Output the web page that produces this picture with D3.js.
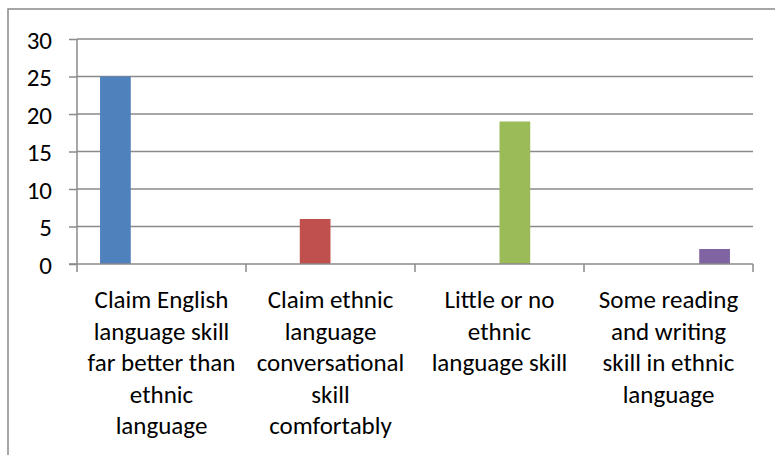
<!DOCTYPE html>
<html>
<head>
<meta charset="utf-8">
<script src="https://cdn.jsdelivr.net/npm/d3@7"></script>
<style>
  body { margin: 0; background: #fff; }
  svg text { font-family: Carlito, Calibri, Lato, "Open Sans", sans-serif; fill: #000; }
</style>
</head>
<body>
<div id="chart"></div>
<script>
// data
const categories = [
  "Claim English language skill far better than ethnic language",
  "Claim ethnic language conversational skill comfortably",
  "Little or no ethnic language skill",
  "Some reading and writing skill in ethnic language"
];
// how excel wrapped the labels
const labelLines = [
  ["Claim English", "language skill", "far better than", "ethnic", "language"],
  ["Claim ethnic", "language", "conversational", "skill", "comfortably"],
  ["Little or no", "ethnic", "language skill"],
  ["Some reading", "and writing", "skill in ethnic", "language"]
];
const values = [25, 6, 19, 2];
const colors = ["#4F81BD", "#C0504D", "#9BBB59", "#8064A2"];
const yTicks = [0, 5, 10, 15, 20, 25, 30];

const width = 775, height = 455;
const plot = { left: 77, right: 753, top: 39, bottom: 264 };
const fontSize = 25;

const svg = d3.select("#chart").append("svg")
  .attr("width", width)
  .attr("height", height);

svg.append("rect").attr("width", width).attr("height", height).attr("fill", "#fff");

// outer frame (right and bottom edges fall off the picture)
svg.append("rect")
  .attr("x", 8).attr("y", 9)
  .attr("width", width + 10).attr("height", height + 10)
  .attr("fill", "none")
  .attr("stroke", "#898989")
  .attr("stroke-width", 1.5);

const y = d3.scaleLinear().domain([0, 30]).range([plot.bottom, plot.top]);

const x = d3.scaleBand()
  .domain(categories)
  .range([plot.left, plot.right])
  .padding(0);

// each category is its own series in a clustered column chart
const xs = d3.scaleBand()
  .domain(d3.range(categories.length))
  .range([0, x.bandwidth()])
  .paddingInner(0)
  .paddingOuter(0.75);

// gridlines
svg.append("g")
  .selectAll("line")
  .data(yTicks.filter(d => d > 0))
  .join("line")
  .attr("x1", plot.left).attr("x2", plot.right)
  .attr("y1", d => y(d)).attr("y2", d => y(d))
  .attr("stroke", "#8a8a8a")
  .attr("stroke-width", 1.5);

// bars
svg.append("g")
  .selectAll("rect")
  .data(values)
  .join("rect")
  .attr("x", (d, i) => x(categories[i]) + xs(i))
  .attr("width", xs.bandwidth())
  .attr("y", d => y(d))
  .attr("height", d => y(0) - y(d))
  .attr("fill", (d, i) => colors[i]);

// y axis
const yAxis = svg.append("g")
  .attr("transform", `translate(${plot.left},0)`)
  .call(d3.axisLeft(y).tickValues(yTicks).tickSize(8).tickPadding(17));
yAxis.selectAll("line, path").attr("stroke", "#8a8a8a").attr("stroke-width", 1.5);
yAxis.select(".domain").attr("d", `M0,${plot.top}V${plot.bottom}`);
yAxis.selectAll("text")
  .style("font-family", "Carlito, Calibri, Lato, 'Open Sans', sans-serif")
  .attr("font-size", fontSize)
  .attr("fill", "#000")
  .attr("dy", "0.36em");

// x axis with ticks on the category boundaries
const boundaries = categories.map(c => x(c)).concat([plot.right]);
svg.append("line")
  .attr("x1", plot.left - 8).attr("x2", plot.right)
  .attr("y1", plot.bottom).attr("y2", plot.bottom)
  .attr("stroke", "#8a8a8a").attr("stroke-width", 1.5);
svg.append("g")
  .selectAll("line")
  .data(boundaries)
  .join("line")
  .attr("x1", d => d).attr("x2", d => d)
  .attr("y1", plot.bottom).attr("y2", plot.bottom + 8)
  .attr("stroke", "#8a8a8a").attr("stroke-width", 1.5);

// category labels
const lineHeight = 31.5;
svg.append("g")
  .selectAll("text")
  .data(categories)
  .join("text")
  .attr("text-anchor", "middle")
  .attr("font-size", fontSize)
  .attr("x", d => x(d) + x.bandwidth() / 2)
  .attr("y", 308)
  .each(function (d, i) {
    d3.select(this).selectAll("tspan")
      .data(labelLines[i])
      .join("tspan")
      .attr("x", x(d) + x.bandwidth() / 2)
      .attr("dy", (t, j) => j === 0 ? 0 : lineHeight)
      .text(t => t);
  });
</script>
</body>
</html>
